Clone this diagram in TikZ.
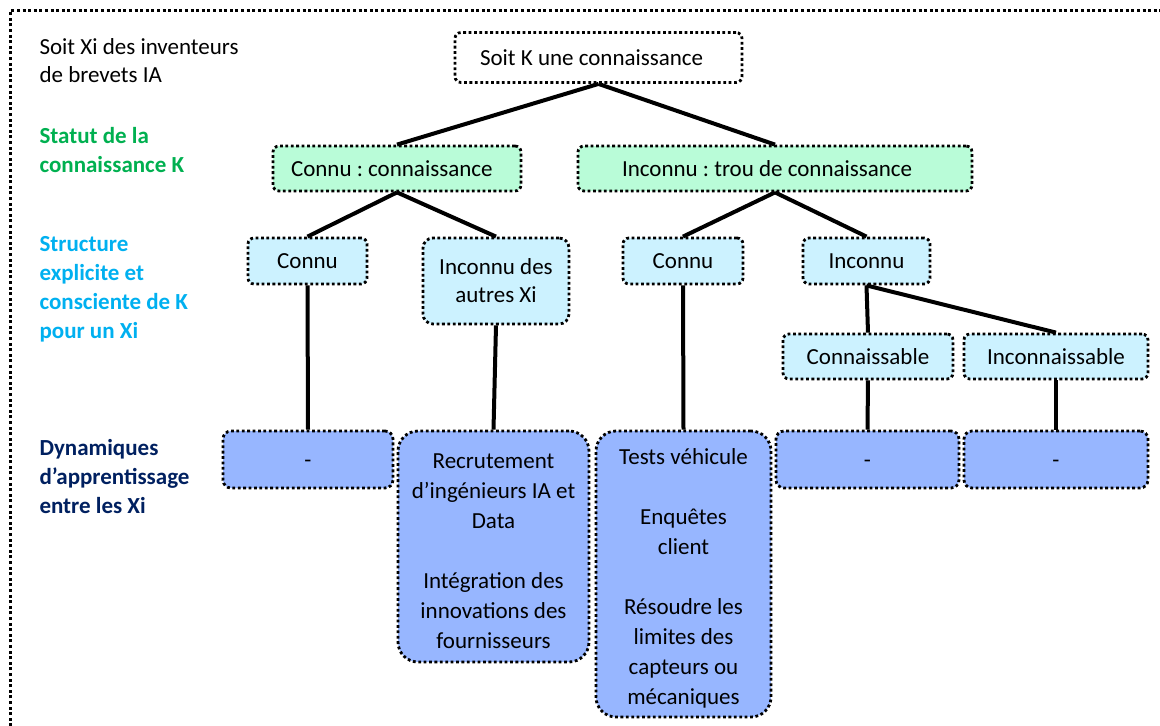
\documentclass[tikz,border=0pt]{standalone}
\usepackage{fontspec}
\setmainfont{Carlito}
\frenchspacing

\definecolor{greenfill}{RGB}{185,252,216}
\definecolor{cyanfill}{RGB}{204,242,255}
\definecolor{bluefill}{RGB}{151,182,255}
\definecolor{statutgreen}{RGB}{0,176,80}
\definecolor{structblue}{RGB}{0,176,240}
\definecolor{dynnavy}{RGB}{0,32,96}

\begin{document}
\begin{tikzpicture}[x=1pt,y=-1pt,
		every node/.style={font=\fontsize{23}{30}\selectfont},
		dotbox/.style={draw,line width=2.8pt,dash pattern=on 2.8pt off 2.6pt,rounded corners=6pt,inner sep=0pt,align=center},
		rootbox/.style={dotbox,minimum height=50pt},
		statusbox/.style={dotbox,fill=greenfill,minimum height=45pt},
		structbox/.style={dotbox,fill=cyanfill},
		dynbox/.style={dotbox,fill=bluefill},
		emptybox/.style={dynbox,minimum height=57pt,rounded corners=8pt,text height=20pt,text depth=4pt},
		branch/.style={line width=4pt},
		rowlabel/.style={anchor=west,align=left,font=\fontsize{23}{29}\selectfont\bfseries}]
		\useasboundingbox (0,0) rectangle (1160,726);
		\begin{scope}
			\clip (0,0) rectangle (1160,726);
			\draw[line width=3pt,dash pattern=on 3pt off 2.6pt] (10.5,760) -- (10.5,10.5) -- (1200,10.5);
		\end{scope}

		% row labels
		\node[anchor=west,align=left,font=\fontsize{23}{28}\selectfont] (soitxi) at (36,61) {Soit Xi des inventeurs\\de brevets IA};
		\node[rowlabel,text=statutgreen] (statut) at (36,150.5) {Statut de la\\connaissance K};
		\node[rowlabel,text=structblue] (structure) at (36,289) {Structure\\explicite et\\consciente de K\\pour un Xi};
		\node[rowlabel,text=dynnavy] (dynamique) at (36,477) {Dynamiques\\d’apprentissage\\entre les Xi};

		% tree
		\node[rootbox,align=flush left,inner xsep=25pt,text width=237pt] (soitk) at (598.5,57.5) {Soit K une connaissance};
		\node[statusbox,align=flush left,inner xsep=18pt,text width=212pt] (connu) at (397,168.5) {Connu : connaissance};
		\node[statusbox,align=flush left,inner xsep=44pt,text width=306pt] (inconnu) at (775,168.5) {Inconnu : trou de connaissance};
		\node[structbox,minimum width=119pt,minimum height=46pt] (connuA) at (307.5,261) {Connu};
		\node[structbox,minimum width=146pt,minimum height=86pt,rounded corners=10pt] (inconnuA) at (496,281) {Inconnu des\\[-2pt]autres Xi};
		\node[structbox,minimum width=120pt,minimum height=46pt] (connuB) at (683,261) {Connu};
		\node[structbox,minimum width=127pt,minimum height=46pt] (inconnuB) at (866.5,261) {Inconnu};
		\node[structbox,minimum width=170pt,minimum height=45pt] (connaissable) at (868,356.5) {Connaissable};
		\node[structbox,minimum width=184pt,minimum height=45pt] (inconnaissable) at (1056,356.5) {Inconnaissable};
		\node[emptybox,minimum width=170pt] (dynA) at (308,459.5) {-};
		\node[dynbox,minimum width=191pt,minimum height=231pt,rounded corners=20pt] (dynB) at (493.5,546.5) {\rule{0pt}{25pt}Recrutement\\d’ingénieurs IA et\\Data\\[30pt]Intégration des\\innovations des\\fournisseurs};
		\node[dynbox,minimum width=175pt,minimum height=286pt,rounded corners=20pt] (dynC) at (683.5,574) {\rule{0pt}{25pt}Tests véhicule\\[30pt]Enquêtes\\client\\[30pt]Résoudre les\\limites des\\capteurs ou\\mécaniques};
		\node[emptybox,minimum width=183pt] (dynD) at (867.5,459.5) {-};
		\node[emptybox,minimum width=184pt] (dynE) at (1056,459.5) {-};

		% branches
		\draw[branch] (soitk.south) -- (connu.north);
		\draw[branch] (soitk.south) -- (inconnu.north);
		\draw[branch] (connu.south) -- (connuA.north);
		\draw[branch] (connu.south) -- (inconnuA.north);
		\draw[branch] (inconnu.south) -- (connuB.north);
		\draw[branch] (inconnu.south) -- (inconnuB.north);
		\draw[branch] (inconnuB.south) -- (connaissable.north);
		\draw[branch] (inconnuB.south) -- (inconnaissable.north);
		\draw[branch] (connuA.south) -- (dynA.north);
		\draw[branch] (inconnuA.south) -- (dynB.north);
		\draw[branch] (connuB.south) -- (dynC.north);
		\draw[branch] (connaissable.south) -- (dynD.north);
		\draw[branch] (inconnaissable.south) -- (dynE.north);
\end{tikzpicture}
\end{document}
